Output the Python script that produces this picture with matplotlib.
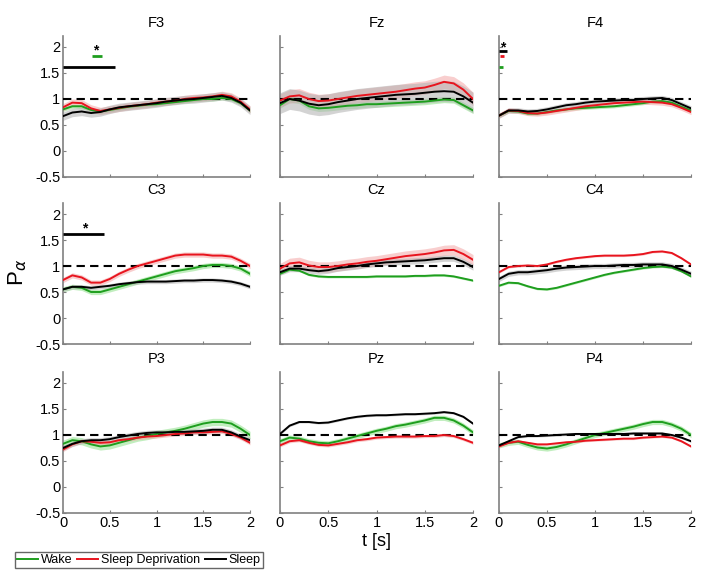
import numpy as np
import matplotlib
matplotlib.use("Agg")
import matplotlib.pyplot as plt
from matplotlib.lines import Line2D

plt.rcParams['font.family'] = ['Liberation Sans', 'DejaVu Sans']

t = np.round(np.arange(21) * 0.1, 1)
channels = ['F3', 'Fz', 'F4', 'C3', 'Cz', 'C4', 'P3', 'Pz', 'P4']
labels = ['Wake', 'Sleep Deprivation', 'Sleep']

wake_F3 = [0.80, 0.86, 0.86, 0.79, 0.76, 0.79, 0.82, 0.85, 0.87, 0.89, 0.90, 0.92, 0.94, 0.96, 0.98, 1.00, 1.00, 1.02, 1.00, 0.92, 0.78]
sd_F3 = [0.84, 0.93, 0.92, 0.82, 0.77, 0.80, 0.83, 0.86, 0.88, 0.90, 0.93, 0.95, 0.97, 1.00, 1.02, 1.03, 1.05, 1.08, 1.05, 0.95, 0.80]
sleep_F3 = [0.67, 0.74, 0.76, 0.73, 0.75, 0.80, 0.84, 0.86, 0.88, 0.90, 0.92, 0.95, 0.97, 0.99, 1.00, 1.02, 1.04, 1.06, 1.02, 0.93, 0.78]

wake_Fz = [0.88, 1.00, 0.97, 0.86, 0.82, 0.83, 0.85, 0.87, 0.88, 0.90, 0.90, 0.91, 0.92, 0.93, 0.94, 0.95, 0.97, 0.99, 0.98, 0.88, 0.78]
sd_Fz = [0.97, 1.05, 1.07, 1.00, 0.96, 0.97, 1.00, 1.03, 1.06, 1.08, 1.10, 1.12, 1.14, 1.17, 1.20, 1.22, 1.27, 1.33, 1.30, 1.18, 1.00]
sleep_Fz = [0.92, 1.00, 0.97, 0.91, 0.88, 0.90, 0.94, 0.97, 1.00, 1.02, 1.04, 1.06, 1.08, 1.09, 1.10, 1.12, 1.14, 1.15, 1.14, 1.05, 0.93]

wake_F4 = [0.68, 0.77, 0.76, 0.72, 0.72, 0.75, 0.78, 0.80, 0.82, 0.83, 0.84, 0.85, 0.86, 0.88, 0.90, 0.92, 0.95, 0.96, 0.93, 0.85, 0.78]
sd_F4 = [0.68, 0.78, 0.77, 0.73, 0.72, 0.74, 0.77, 0.80, 0.83, 0.86, 0.88, 0.90, 0.92, 0.93, 0.94, 0.95, 0.94, 0.93, 0.90, 0.83, 0.75]
sleep_F4 = [0.68, 0.78, 0.78, 0.76, 0.77, 0.80, 0.84, 0.88, 0.90, 0.93, 0.95, 0.96, 0.97, 0.98, 0.98, 1.00, 1.01, 1.02, 0.98, 0.90, 0.82]

wake_C3 = [0.55, 0.60, 0.58, 0.50, 0.50, 0.55, 0.60, 0.65, 0.70, 0.75, 0.80, 0.85, 0.90, 0.93, 0.96, 1.00, 1.02, 1.02, 1.00, 0.95, 0.85]
sd_C3 = [0.73, 0.82, 0.78, 0.68, 0.68, 0.75, 0.85, 0.93, 1.00, 1.05, 1.10, 1.15, 1.20, 1.22, 1.22, 1.22, 1.20, 1.20, 1.18, 1.10, 1.00]
sleep_C3 = [0.55, 0.60, 0.60, 0.58, 0.60, 0.62, 0.65, 0.67, 0.69, 0.70, 0.70, 0.70, 0.71, 0.72, 0.72, 0.73, 0.73, 0.72, 0.70, 0.66, 0.60]

wake_Cz = [0.85, 0.93, 0.91, 0.83, 0.80, 0.79, 0.79, 0.79, 0.79, 0.79, 0.80, 0.80, 0.80, 0.80, 0.81, 0.81, 0.82, 0.82, 0.80, 0.76, 0.72]
sd_Cz = [0.95, 1.05, 1.07, 1.01, 0.98, 0.98, 1.00, 1.03, 1.05, 1.08, 1.10, 1.13, 1.16, 1.19, 1.21, 1.23, 1.26, 1.30, 1.31, 1.23, 1.12]
sleep_Cz = [0.88, 0.95, 0.95, 0.92, 0.90, 0.92, 0.96, 0.98, 1.00, 1.03, 1.05, 1.07, 1.08, 1.09, 1.10, 1.11, 1.13, 1.15, 1.15, 1.08, 0.98]

wake_C4 = [0.62, 0.68, 0.67, 0.61, 0.56, 0.55, 0.58, 0.63, 0.68, 0.73, 0.78, 0.83, 0.87, 0.90, 0.93, 0.96, 0.98, 0.99, 0.97, 0.90, 0.80]
sd_C4 = [0.88, 0.98, 1.00, 1.01, 1.00, 1.03, 1.08, 1.12, 1.15, 1.17, 1.19, 1.20, 1.20, 1.20, 1.21, 1.23, 1.27, 1.28, 1.25, 1.15, 1.03]
sleep_C4 = [0.75, 0.85, 0.88, 0.88, 0.90, 0.92, 0.95, 0.97, 0.98, 0.99, 1.00, 1.00, 1.01, 1.02, 1.02, 1.03, 1.03, 1.03, 1.00, 0.93, 0.85]

wake_P3 = [0.83, 0.90, 0.88, 0.82, 0.78, 0.80, 0.85, 0.90, 0.95, 0.98, 1.02, 1.05, 1.08, 1.12, 1.17, 1.22, 1.25, 1.25, 1.22, 1.12, 1.00]
sd_P3 = [0.72, 0.82, 0.88, 0.87, 0.85, 0.86, 0.90, 0.92, 0.95, 0.97, 0.98, 1.00, 1.02, 1.03, 1.05, 1.05, 1.06, 1.07, 1.02, 0.95, 0.85]
sleep_P3 = [0.75, 0.83, 0.88, 0.90, 0.90, 0.92, 0.96, 0.99, 1.02, 1.04, 1.05, 1.05, 1.06, 1.06, 1.07, 1.08, 1.10, 1.10, 1.05, 0.97, 0.90]

wake_Pz = [0.88, 0.95, 0.93, 0.88, 0.85, 0.84, 0.88, 0.93, 0.98, 1.03, 1.08, 1.12, 1.17, 1.20, 1.24, 1.28, 1.33, 1.33, 1.28, 1.18, 1.05]
sd_Pz = [0.80, 0.88, 0.90, 0.85, 0.81, 0.80, 0.83, 0.86, 0.90, 0.92, 0.95, 0.96, 0.97, 0.97, 0.97, 0.98, 0.98, 1.00, 0.98, 0.92, 0.85]
sleep_Pz = [1.02, 1.18, 1.25, 1.25, 1.23, 1.24, 1.28, 1.32, 1.35, 1.37, 1.38, 1.38, 1.39, 1.40, 1.40, 1.41, 1.42, 1.44, 1.42, 1.35, 1.22]

wake_P4 = [0.80, 0.85, 0.87, 0.81, 0.76, 0.74, 0.77, 0.82, 0.88, 0.94, 1.00, 1.04, 1.08, 1.12, 1.16, 1.21, 1.25, 1.25, 1.20, 1.12, 1.00]
sd_P4 = [0.78, 0.85, 0.88, 0.85, 0.82, 0.82, 0.84, 0.86, 0.87, 0.89, 0.90, 0.91, 0.92, 0.93, 0.93, 0.95, 0.96, 0.97, 0.95, 0.88, 0.78]
sleep_P4 = [0.80, 0.88, 0.96, 0.98, 0.98, 0.99, 1.00, 1.01, 1.02, 1.02, 1.02, 1.02, 1.02, 1.02, 1.03, 1.03, 1.03, 1.03, 1.00, 0.95, 0.88]

# standard error half-widths per channel (same order as channels)
sem_wake = [0.04, 0.06, 0.03, 0.05, 0.02, 0.02, 0.07, 0.05, 0.05]
sem_sd = [0.07, 0.13, 0.05, 0.05, 0.10, 0.02, 0.04, 0.03, 0.02]
sem_sleep = [0.08, 0.20, 0.05, 0.04, 0.06, 0.05, 0.05, 0.02, 0.02]

# significance bars: channel, condition index, y, t start, t end
sig_bars = [('F3', 2, 1.62, 0.0, 0.56), ('F3', 0, 1.83, 0.31, 0.42),
            ('F4', 2, 1.92, 0.0, 0.08), ('F4', 1, 1.83, 0.01, 0.05),
            ('F4', 0, 1.62, 0.0, 0.04), ('C3', 2, 1.61, 0.0, 0.44)]
stars = [('F3', 0.35, 1.93), ('F4', 0.04, 2.0), ('C3', 0.23, 1.73)]

data = {}
for ch in channels:
    data[ch] = [globals()['wake_' + ch], globals()['sd_' + ch], globals()['sleep_' + ch]]
sems = [sem_wake, sem_sd, sem_sleep]

colors = ['#1e9e1e', '#e8141e', '#000000']
band_colors = ['#8ee08a', '#f4a6a6', '#b0b0b0']
spine_col = '#808080'

W, H = 707, 583
fig = plt.figure(figsize=(W / 100, H / 100), dpi=100)

col_x = [(63, 250), (280, 473), (499, 691)]
row_bottom = [177, 344, 513]
px_per_unit = 52
ymin, ymax = -0.5, 2.22

for i, ch in enumerate(channels):
    r, c = divmod(i, 3)
    x0, x1 = col_x[c]
    yb = row_bottom[r]
    h = (ymax - ymin) * px_per_unit
    ax = fig.add_axes([x0 / W, (H - yb) / H, (x1 - x0) / W, h / H])
    for k in range(3):
        y = np.array(data[ch][k])
        s = sems[k][i]
        ax.fill_between(t, y - s, y + s, color=band_colors[k], alpha=0.55, lw=0, zorder=1)
    ax.axhline(1, color='k', ls=(0, (4, 2.5)), lw=1.5, zorder=3)
    for k in range(3):
        ax.plot(t, data[ch][k], color=colors[k], lw=1.4, zorder=4 if k != 2 else 5)
    for (bch, k, yy, ta, tb) in sig_bars:
        if bch == ch:
            ax.plot([ta, tb], [yy, yy], color=colors[k], lw=2, solid_capstyle='butt', zorder=6)
    for (sch, tx, yy) in stars:
        if sch == ch:
            ax.text(tx, yy, '*', ha='center', va='center', fontsize=10, fontweight='bold')
    ax.set_xlim(0, 2)
    ax.set_ylim(ymin, ymax)
    for sp in ['top', 'right']:
        ax.spines[sp].set_visible(False)
    for sp in ['left', 'bottom']:
        ax.spines[sp].set_color(spine_col)
        ax.spines[sp].set_linewidth(1.2)
    ax.set_xticks([0, 0.5, 1, 1.5, 2])
    ax.set_yticks([-0.5, 0, 0.5, 1, 1.5, 2])
    ax.tick_params(direction='in', length=2, color=spine_col, labelsize=10.5, pad=2)
    if c == 0:
        ax.set_yticklabels(['-0.5', '0', '0.5', '1', '1.5', '2'])
    else:
        ax.set_yticklabels([])
    if r == 2:
        ax.set_xticklabels(['0', '0.5', '1', '1.5', '2'])
    else:
        ax.set_xticklabels([])
    ax.set_title(ch, fontsize=10.5, pad=6)

fig.text(18 / W, 1 - 272 / H, r'P$_{\alpha}$', rotation=90, ha='center', va='center', fontsize=16)
fig.text(377 / W, 1 - 541 / H, 't [s]', ha='center', va='center', fontsize=13)

handles = [Line2D([], [], color=colors[k], lw=1.4) for k in range(3)]
leg = fig.legend(handles, labels, loc='lower left', bbox_to_anchor=(15 / W, 15 / H), ncol=3,
                 fontsize=9, frameon=True, fancybox=False, handlelength=1.7, handletextpad=0.2,
                 columnspacing=0.4, borderpad=0.15, borderaxespad=0)
leg.get_frame().set_edgecolor('#404040')
leg.get_frame().set_linewidth(1.0)

fig.savefig('out.png', dpi=100)
